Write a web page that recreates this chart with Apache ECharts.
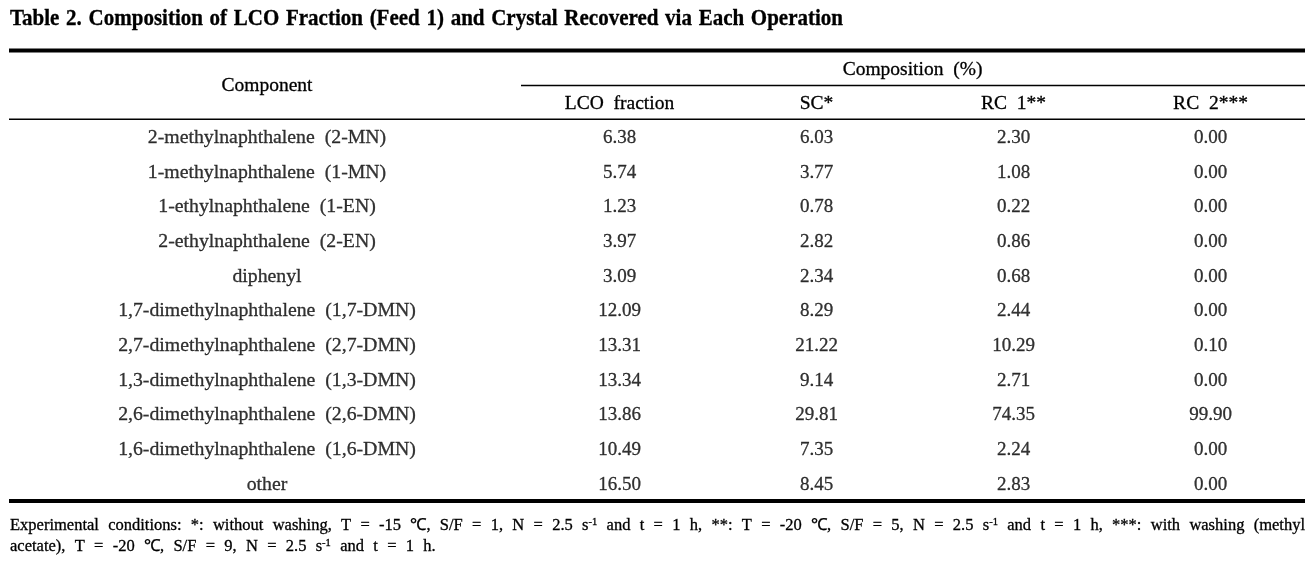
<!DOCTYPE html>
<html><head><meta charset="utf-8">
<script src="https://cdn.jsdelivr.net/npm/echarts@6/dist/echarts.min.js"></script>
<style>html,body{margin:0;padding:0;background:#fff}#c{width:1312px;height:568px}</style>
</head><body><div id="c"></div>
<script>
// ---------- data ----------
const titleText = "Table 2. Composition of LCO Fraction (Feed 1) and Crystal Recovered via Each Operation";
const componentHeader = "Component";
const groupHeader = "Composition  (%)";
const columns = ["LCO  fraction", "SC*", "RC  1**", "RC  2***"];
const components = [
  "2-methylnaphthalene  (2-MN)",
  "1-methylnaphthalene  (1-MN)",
  "1-ethylnaphthalene  (1-EN)",
  "2-ethylnaphthalene  (2-EN)",
  "diphenyl",
  "1,7-dimethylnaphthalene  (1,7-DMN)",
  "2,7-dimethylnaphthalene  (2,7-DMN)",
  "1,3-dimethylnaphthalene  (1,3-DMN)",
  "2,6-dimethylnaphthalene  (2,6-DMN)",
  "1,6-dimethylnaphthalene  (1,6-DMN)",
  "other"
];
const lcoFraction = [6.38, 5.74, 1.23, 3.97, 3.09, 12.09, 13.31, 13.34, 13.86, 10.49, 16.50];
const sc          = [6.03, 3.77, 0.78, 2.82, 2.34, 8.29, 21.22, 9.14, 29.81, 7.35, 8.45];
const rc1         = [2.30, 1.08, 0.22, 0.86, 0.68, 2.44, 10.29, 2.71, 74.35, 2.24, 2.83];
const rc2         = [0.00, 0.00, 0.00, 0.00, 0.00, 0.00, 0.10, 0.00, 99.90, 0.00, 0.00];
// "^" marks a superscript part
const footnoteLine1 = "Experimental conditions: *: without washing, T = -15 ℃, S/F = 1, N = 2.5 s^-1 and t = 1 h, **: T = -20 ℃, S/F = 5, N = 2.5 s^-1 and t = 1 h, ***: with washing (methyl";
const footnoteLine2 = "acetate), T = -20 ℃, S/F = 9, N = 2.5 s^-1 and t = 1 h.";

// ---------- layout / style ----------
const FF = '"Liberation Serif", "Times New Roman", serif';
const INK = '#000';
const BW = 0.3; // slight stroke to darken thin glyphs
const cv = document.createElement('canvas').getContext('2d');
function tw(text, size, weight) { cv.font = (weight || 'normal') + ' ' + size + 'px ' + FF; return cv.measureText(text).width; }

function wordPieces(word) {
  const k = word.indexOf('^');
  if (k < 0) return [{t: word, sup: false}];
  return [{t: word.slice(0, k), sup: false}, {t: word.slice(k + 1), sup: true}];
}
function layoutWords(text, size, supSize, weight, x0, x1, yMid, gapOverride, scaleY) {
  const words = text.split(' ').map(wordPieces);
  const widths = words.map(ps => ps.reduce((s, p) => s + tw(p.t, p.sup ? supSize : size, weight), 0));
  const total = widths.reduce((a, b) => a + b, 0);
  const gap = gapOverride != null ? gapOverride : (x1 - x0 - total) / (words.length - 1);
  const els = [];
  let x = x0;
  words.forEach((ps, i) => {
    let xx = x;
    ps.forEach(p => {
      const s = p.sup ? supSize : size;
      const yy = p.sup ? yMid - 3 : yMid;
      els.push({type: 'text', x: xx, y: yy, silent: true,
        scaleY: scaleY || 1, originX: 0, originY: 0,
        style: {text: p.t, fontSize: s, fontFamily: FF, fontWeight: weight || 'normal', fill: INK,
          stroke: INK, lineWidth: BW, align: 'left', verticalAlign: 'middle'}});
      xx += tw(p.t, s, weight);
    });
    x += widths[i] + gap;
  });
  return {els, gap};
}

const titleLay = layoutWords(titleText, 21, 12, 'bold', 10, 843, 18.4, null, 1.13);
const fn1 = layoutWords(footnoteLine1, 16.5, 10.5, 'normal', 10, 1305, 525.4);
const fn2 = layoutWords(footnoteLine2, 16.5, 10.5, 'normal', 10, 0, 546.2, fn1.gap);

function hline(x1, x2, y, w) {
  return {type: 'line', silent: true, shape: {x1, y1: y, x2, y2: y}, style: {stroke: INK, lineWidth: w}};
}

const GRID_TOP = 120.5, GRID_H = 381.5;
const hidden = {axisLine: {show: false}, axisTick: {show: false}, splitLine: {show: false}};
const txt = (size) => ({fontSize: size, fontFamily: FF, color: INK, textBorderColor: INK, textBorderWidth: BW});
const chart = echarts.init(document.getElementById('c'), null, {renderer: 'canvas'});
const colData = [lcoFraction, sc, rc1, rc2];

chart.setOption({
  animation: false,
  backgroundColor: '#fff',
  grid: [
    {left: 10, width: 514, top: GRID_TOP, height: GRID_H, outerBoundsMode: 'none', containLabel: false},
    {left: 521, width: 788, top: GRID_TOP, height: GRID_H, outerBoundsMode: 'none', containLabel: false}
  ],
  xAxis: [
    Object.assign({type: 'category', gridIndex: 0, position: 'top', data: [componentHeader],
      axisLabel: Object.assign({margin: 34.5, verticalAlign: 'middle'}, txt(19.5))}, hidden),
    Object.assign({type: 'category', gridIndex: 1, position: 'top', data: columns,
      axisLabel: Object.assign({margin: 16.5, verticalAlign: 'middle', interval: 0}, txt(19.5))}, hidden)
  ],
  yAxis: [
    Object.assign({type: 'category', gridIndex: 0, inverse: true, data: components, axisLabel: {show: false}}, hidden),
    Object.assign({type: 'category', gridIndex: 1, inverse: true, data: components, axisLabel: {show: false}}, hidden)
  ],
  series: [
    {type: 'scatter', xAxisIndex: 0, yAxisIndex: 0, symbolSize: 1, silent: true,
      itemStyle: {color: 'rgba(0,0,0,0)'},
      data: components.map(n => [componentHeader, n]),
      label: Object.assign({show: true, position: 'inside', formatter: p => p.value[1]}, txt(19.8))}
  ].concat(colData.map((vals, c) => ({
    type: 'scatter', xAxisIndex: 1, yAxisIndex: 1, symbolSize: 1, silent: true,
    itemStyle: {color: 'rgba(0,0,0,0)'},
    data: vals.map((v, i) => [columns[c], components[i], v]),
    label: Object.assign({show: true, position: 'inside', formatter: p => p.value[2].toFixed(2)}, txt(19))
  }))),
  graphic: [
    hline(9, 1305, 50.5, 4),
    hline(521, 1305, 85.5, 1.3),
    hline(9, 1305, 119.2, 1.5),
    hline(9, 1305, 501, 4),
    {type: 'text', x: 912.5, y: 70, silent: true,
      style: {text: groupHeader, fontSize: 19.5, fontFamily: FF, fill: INK, stroke: INK, lineWidth: BW, align: 'center', verticalAlign: 'middle'}}
  ].concat(titleLay.els, fn1.els, fn2.els)
});
</script>
</body></html>
